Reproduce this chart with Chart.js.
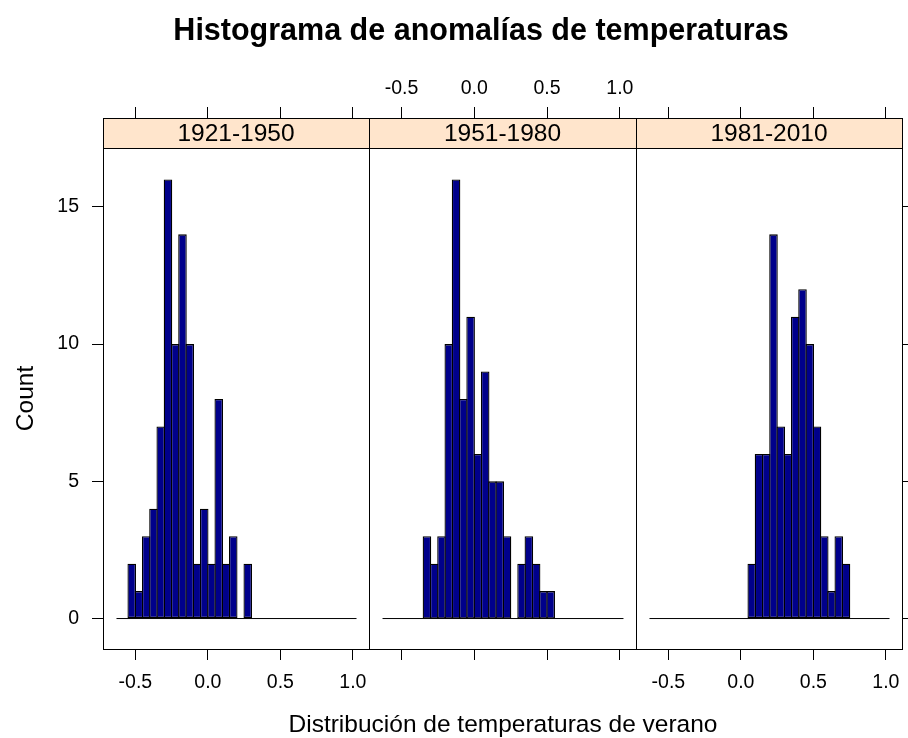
<!DOCTYPE html>
<html>
<head>
<meta charset="utf-8">
<script src="https://cdn.jsdelivr.net/npm/chart.js@4.4.1/dist/chart.umd.min.js"></script>
<style>
html,body{margin:0;padding:0;background:#fff;}
#wrap{position:relative;width:908px;height:738px;overflow:hidden;}
#wrap canvas{position:absolute;left:0;top:0;}
</style>
</head>
<body>
<div id="wrap">
  <canvas id="p1" width="908" height="738"></canvas>
  <canvas id="p2" width="908" height="738"></canvas>
  <canvas id="p3" width="908" height="738"></canvas>
</div>
<script>
// data (counts per 0.05 bin)
const panelLabels = ["1921-1950", "1951-1980", "1981-2010"];
const binWidth = 0.05;
const firstBinStart = [-0.55, -0.35, 0.05];
const counts1921 = [2, 1, 3, 4, 7, 16, 10, 14, 10, 2, 4, 2, 8, 2, 3, 0, 2];
const counts1951 = [3, 2, 3, 10, 16, 8, 11, 6, 9, 5, 5, 3, 0, 2, 3, 2, 1, 1];
const counts1981 = [2, 6, 6, 14, 7, 6, 11, 12, 10, 7, 3, 1, 3, 2];
const baselineRange = [-0.63, 1.025];
const xTicks = [-0.5, 0, 0.5, 1.0];
const yTicks = [0, 5, 10, 15];
const xLimits = [-0.723, 1.111];
const yLimits = [-1.11, 18.24];

const mainTitle = "Histograma de anomalías de temperaturas";
const xTitle = "Distribución de temperaturas de verano";
const yTitle = "Count";

const FONT = '"Liberation Sans", Arial, sans-serif';
const W = 908, H = 738;
const PANEL_TOP = 118, PANEL_BOTTOM = 649, STRIP_H = 30;
const AXIS_H = 50, YAXIS_W = 60, YAXIS_W_RIGHT = 6;
const BAR_BORDER = 1.3;

const panels = [
  {id: "p1", left: 103, right: 369, yAxis: "left",  labelsBottom: true,  labelsTop: false, counts: counts1921},
  {id: "p2", left: 369, right: 636, yAxis: null,    labelsBottom: false, labelsTop: true,  counts: counts1951},
  {id: "p3", left: 636, right: 902, yAxis: "right", labelsBottom: true,  labelsTop: false, counts: counts1981}
];

const panelFrame = {
  id: "panelFrame",
  afterDatasetsDraw(chart, args, opts){
    const {ctx, chartArea: a} = chart;
    ctx.save();
    ctx.fillStyle = "#ffe5cc";
    ctx.fillRect(a.left, a.top, a.right - a.left, STRIP_H);
    ctx.strokeStyle = "#000";
    ctx.lineWidth = 1;
    ctx.beginPath();
    ctx.moveTo(a.left, a.top + STRIP_H + 0.5);
    ctx.lineTo(a.right, a.top + STRIP_H + 0.5);
    ctx.stroke();
    ctx.strokeRect(a.left + 0.5, a.top + 0.5, a.right - a.left, a.bottom - a.top);
    ctx.fillStyle = "#000";
    ctx.font = "24.5px " + FONT;
    ctx.textAlign = "center";
    ctx.textBaseline = "middle";
    ctx.fillText(opts.label, (a.left + a.right) / 2, a.top + STRIP_H / 2 + 1);
    ctx.restore();
  }
};

// outer titles, drawn once on the first panel's canvas
const figureText = {
  id: "figureText",
  afterDraw(chart){
    const ctx = chart.ctx;
    ctx.save();
    ctx.fillStyle = "#000";
    ctx.textAlign = "center";
    ctx.textBaseline = "alphabetic";
    ctx.font = "bold 30.5px " + FONT;
    ctx.fillText(mainTitle, 481, 40);
    ctx.font = "24.5px " + FONT;
    ctx.fillText(xTitle, 503, 732);
    ctx.translate(33, 398.5);
    ctx.rotate(-Math.PI / 2);
    ctx.fillText(yTitle, 0, 0);
    ctx.restore();
  }
};

function tickGrid(){
  return {display: true, drawOnChartArea: false, drawTicks: true, tickLength: 11, tickColor: "#000", lineWidth: 1, offset: false};
}

function xScale(position, showLabels, pad){
  return {
    type: "linear", position, display: true, min: xLimits[0], max: xLimits[1], offset: false,
    afterBuildTicks: s => { s.ticks = xTicks.map(v => ({value: v})); },
    afterFit: s => { s.height = AXIS_H; s.paddingLeft = 0; s.paddingRight = 0; },
    grid: tickGrid(),
    border: {display: false},
    ticks: {display: showLabels, padding: pad, color: "#000", maxRotation: 0, autoSkip: false,
      font: {family: FONT, size: 19.5}, callback: v => Number(v).toFixed(1)}
  };
}

panels.forEach((p, k) => {
  const bars = p.counts.map((c, i) => ({x: firstBinStart[k] + (i + 0.5) * binWidth, y: c}));
  const yw = p.yAxis === "left" ? YAXIS_W : p.yAxis === "right" ? YAXIS_W_RIGHT : 0;
  // widen bars by one border so neighbours share a single dividing line
  const binPx = binWidth * (p.right - p.left) / (xLimits[1] - xLimits[0]);
  new Chart(document.getElementById(p.id), {
    type: "bar",
    data: {
      datasets: [
        {type: "bar", data: bars, backgroundColor: "#00008B", borderColor: "#000", borderWidth: BAR_BORDER,
         borderSkipped: false, barPercentage: (binPx + BAR_BORDER) / binPx, categoryPercentage: 1, order: 1},
        {type: "line", data: baselineRange.map(x => ({x, y: 0})), borderColor: "#000", borderWidth: 1,
         pointRadius: 0, order: 2}
      ]
    },
    options: {
      responsive: false,
      animation: false,
      devicePixelRatio: 1,
      layout: {padding: {
        left: p.left - (p.yAxis === "left" ? yw : 0),
        right: W - p.right - (p.yAxis === "right" ? yw : 0),
        top: PANEL_TOP - AXIS_H,
        bottom: H - PANEL_BOTTOM - AXIS_H
      }},
      plugins: {legend: {display: false}, tooltip: {enabled: false}, panelFrame: {label: panelLabels[k]}},
      scales: {
        x: xScale("bottom", p.labelsBottom, 11),
        x2: xScale("top", p.labelsTop, 7),
        y: {
          type: "linear", position: p.yAxis || "left", display: !!p.yAxis,
          min: yLimits[0], max: yLimits[1],
          afterBuildTicks: s => { s.ticks = yTicks.map(v => ({value: v})); },
          afterFit: s => { s.width = yw; s.paddingTop = 0; s.paddingBottom = 0; },
          grid: tickGrid(),
          border: {display: false},
          ticks: {display: p.yAxis === "left", padding: 13, color: "#000", font: {family: FONT, size: 19.5}}
        }
      }
    },
    plugins: k === 0 ? [panelFrame, figureText] : [panelFrame]
  });
});
</script>
</body>
</html>
